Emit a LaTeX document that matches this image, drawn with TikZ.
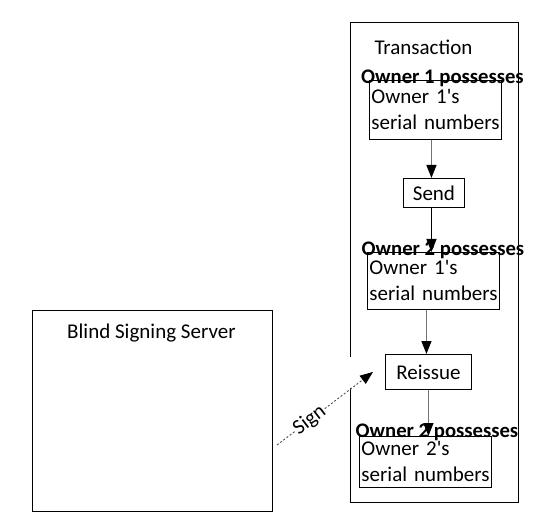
\documentclass[tikz,border=0pt]{standalone}
\usepackage{fontspec}
\setmainfont{Carlito}
\usetikzlibrary{arrows.meta, positioning}
\tikzstyle{box} = [draw, rectangle, line width=0.9pt, anchor=north west, inner sep=0]
\tikzstyle{coins} = [box, minimum width=132pt, text width=128pt, inner xsep=2pt, align=left]
\tikzstyle{owns} = [anchor=base, inner sep=0, font=\fontsize{20.7}{26}\selectfont\bfseries]
\tikzstyle{flow} = [draw=gray!90!black, line width=1.3pt, -{Triangle[length=13pt,width=10pt,color=black]}]
\tikzstyle{signflow} = [draw=black!70, line width=0.9pt, dash pattern=on 2pt off 2pt, -{Triangle[length=13pt,width=10pt,color=black]}]

\begin{document}
\begin{tikzpicture}[x=1pt, y=-1pt, every node/.style={font=\fontsize{21}{26}\selectfont}]
  \useasboundingbox (0,0) rectangle (535,526);
  % outer boxes
  \node[box, minimum width=168pt, minimum height=480pt,
        label={[anchor=base, xshift=-11pt, yshift=-33pt]north:Transaction}] (trans) at (350,22) {};
  \node[box, minimum width=240pt, minimum height=201pt,
        label={[anchor=base, xshift=-1pt, yshift=-28pt]north:Blind Signing Server}] (bss) at (32,310) {};
  % steps
  \node[coins, minimum height=59pt] (o1) at (369,80) {\mbox{Owner 1\textquotesingle s}\\\mbox{serial numbers}};
  \node[owns] (p1) at (442.5,84) {Owner 1 possesses};
  \node[box, minimum width=61pt, minimum height=29pt] (send) at (403,178) {Send};
  \node[coins, minimum height=57pt] (o2) at (367,252) {\mbox{Owner 1\textquotesingle s}\\\mbox{serial numbers}};
  \node[owns] (p2) at (443,256) {Owner 2 possesses};
  \fill[white] (345,357) rectangle (355,388); % gap in the frame
  \node[box, fill=white, minimum width=86pt, minimum height=35pt] (reissue) at (385,354) {Reissue};
  \node[coins, minimum height=51pt] (o3) at (359,436) {\mbox{Owner 2\textquotesingle s}\\\mbox{serial numbers}};
  \node[owns] (p3) at (437,437) {Owner 2 possesses};
  \coordinate (signtail) at (277,445);
  \coordinate (signtip) at ([xshift=-12pt]reissue.west);

  % arrows
  \draw[flow] ([xshift=-2.5pt]send.north |- o1.south) -- ([xshift=-2.5pt]send.north);
  \draw[flow, draw=black] ([xshift=-2.5pt]send.south) -- ([xshift=-2.5pt]send.south |- o2.north);
  \draw[flow] ([xshift=-2pt]reissue.north |- o2.south) -- ([xshift=-2pt]reissue.north);
  \draw[flow] (reissue.south) -- (reissue.south |- o3.north);
  \draw[signflow] (signtail) -- node[sloped, fill=white, inner sep=0.5pt, pos=0.34] {Sign} (signtip);
\end{tikzpicture}
\end{document}
